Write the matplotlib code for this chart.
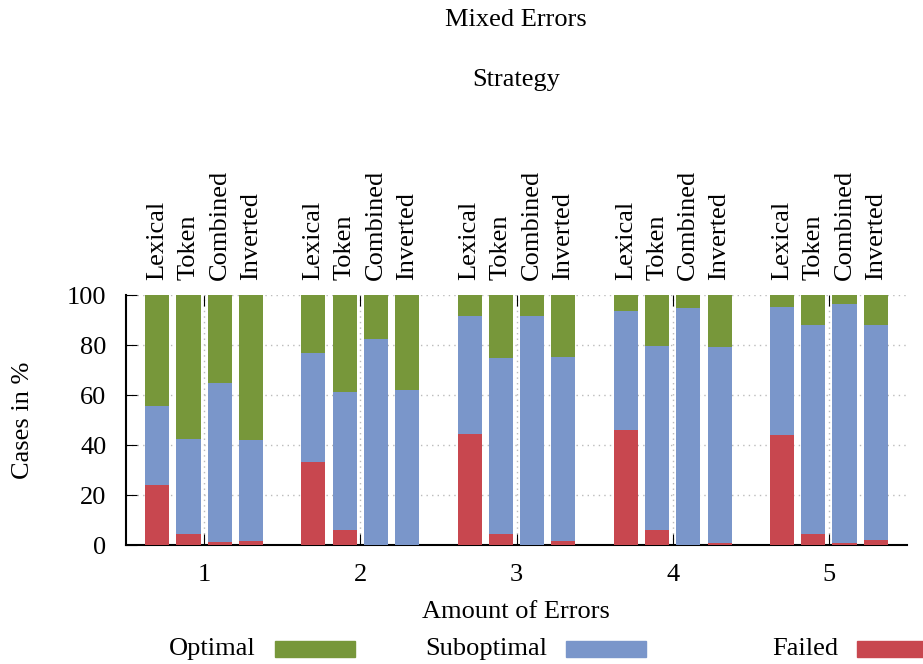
import numpy as np
import matplotlib
matplotlib.use("Agg")
import matplotlib.pyplot as plt
from matplotlib.patches import Rectangle
from matplotlib.transforms import blended_transform_factory

plt.rcParams['font.family'] = ['Liberation Serif', 'DejaVu Serif']

# data (percent of cases)
errors = [1, 2, 3, 4, 5]
strategies = ['Lexical', 'Token', 'Combined', 'Inverted']
# rows = amount of errors, columns = strategies
failed = np.array([
    [24.0, 4.4, 1.2, 1.6],
    [33.2, 6.0, 0.2, 0.0],
    [44.4, 4.4, 0.2, 1.6],
    [46.0, 6.0, 0.2, 0.8],
    [44.0, 4.4, 0.8, 2.0],
])
suboptimal = np.array([
    [31.6, 38.0, 63.6, 40.4],
    [43.6, 55.2, 82.2, 62.0],
    [47.2, 70.4, 91.4, 73.6],
    [47.6, 73.6, 94.6, 78.4],
    [51.2, 83.6, 95.6, 86.0],
])
optimal = 100 - failed - suboptimal

c_opt = '#77973a'
c_sub = '#7a96ca'
c_fail = '#c8474f'

fig = plt.figure(figsize=(9.23, 6.64), dpi=100)
ax = fig.add_axes([126/923, 119/664, 781/923, 250/664])

offsets = [-0.3, -0.1, 0.1, 0.3]
width = 0.154
x = np.array(errors, dtype=float)
for j, off in enumerate(offsets):
    ax.bar(x + off, failed[:, j], width, color=c_fail, zorder=3)
    ax.bar(x + off, suboptimal[:, j], width, bottom=failed[:, j], color=c_sub, zorder=3)
    ax.bar(x + off, optimal[:, j], width, bottom=failed[:, j] + suboptimal[:, j],
           color=c_opt, zorder=3)

ax.set_xlim(0.5, 5.5)
ax.set_ylim(0, 100)
ax.set_xticks(errors)
ax.set_yticks([0, 20, 40, 60, 80, 100])
ax.tick_params(axis='both', labelsize=19, direction='in', length=8)
ax.tick_params(axis='x', top=True, pad=14)
ax.tick_params(axis='y', pad=14)
ax.grid(True, linestyle=(0, (1, 3)), color='#bbbbbb', linewidth=1, zorder=0)
ax.set_axisbelow(True)
for s in ['top', 'right']:
    ax.spines[s].set_visible(False)
ax.spines['left'].set_linewidth(1.5)
ax.spines['bottom'].set_linewidth(1.5)

ax.set_ylabel('Cases in %', fontsize=19, labelpad=24)

# strategy names above each bar
trans = blended_transform_factory(ax.transData, ax.transAxes)
for e in errors:
    for j, off in enumerate(offsets):
        ax.text(e + off, 1.06, strategies[j], rotation=90, ha='center', va='bottom',
                fontsize=19, transform=trans)

fig.text(516/923, 1 - 20/664, 'Mixed Errors', ha='center', va='center', fontsize=19)
fig.text(516/923, 1 - 80/664, 'Strategy', ha='center', va='center', fontsize=19)
fig.text(516/923, 1 - 612/664, 'Amount of Errors', ha='center', va='center', fontsize=19)

# legend, gnuplot style: text right-aligned then sample box
labels = ['Optimal', 'Suboptimal', 'Failed']
colors = [c_opt, c_sub, c_fail]
ly = 1 - 649/664
for i in range(3):
    tx = (256 + 291 * i) / 923
    fig.text(tx, ly, labels[i], ha='right', va='center', fontsize=19)
    px = (275 + 291 * i) / 923
    fig.patches.append(Rectangle((px, ly - 8/664), 80/923, 16/664, color=colors[i],
                                 transform=fig.transFigure, figure=fig))

fig.savefig('out.png', dpi=100)
